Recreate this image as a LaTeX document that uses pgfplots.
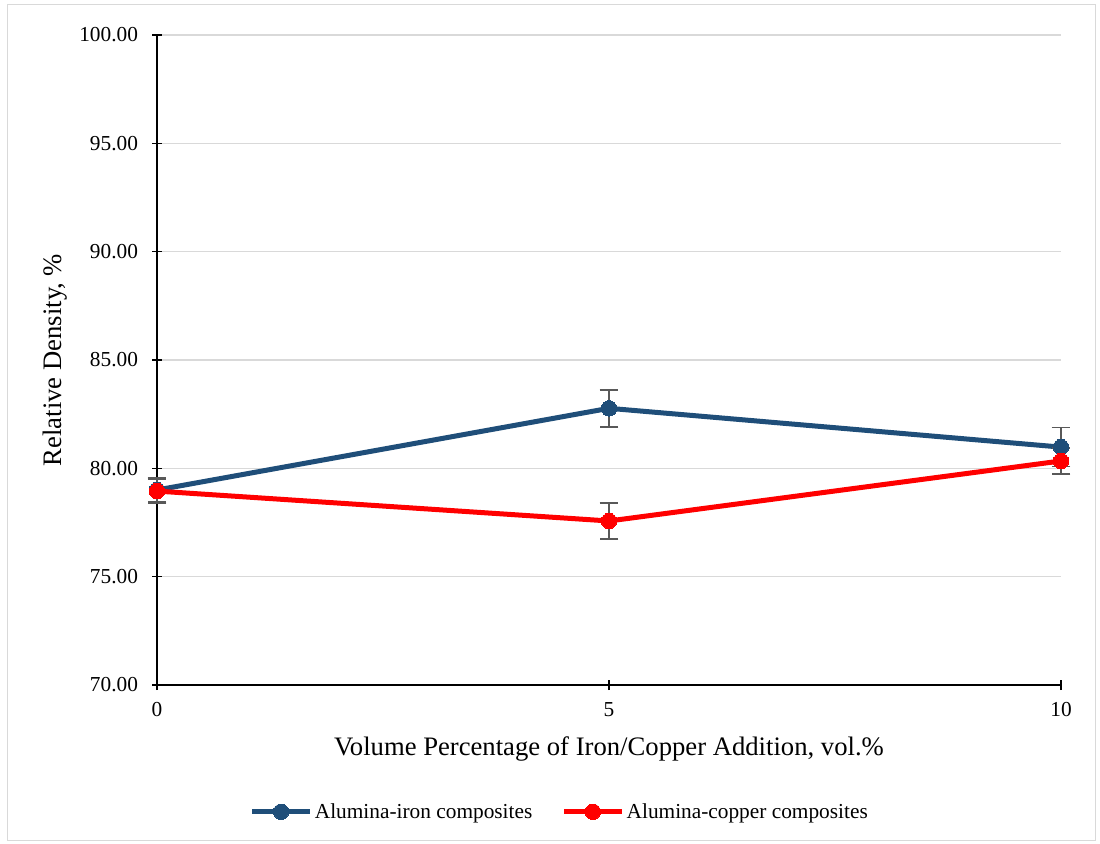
\documentclass[border=0pt]{standalone}
\usepackage{fontspec}
\setmainfont{Liberation Serif}
\usepackage{pgfplots}
\pgfplotsset{compat=1.18}
\definecolor{ironblue}{HTML}{1F4E79}
\definecolor{errgray}{HTML}{595959}
\definecolor{gridgray}{HTML}{D9D9D9}
\begin{document}
\begin{tikzpicture}[x=0.75pt,y=0.75pt]
% bounding box (pixel units 0.75pt, origin at axis lower-left = pixel (157,685))
\path (-157,-158) rectangle (943,685);
\draw[gridgray, line width=0.75pt] (-149,-155) rectangle (938,680);
\begin{axis}[
  at={(0,0)}, anchor=south west,
  scale only axis,
  width=678pt, height=487.5pt,
  xmin=0, xmax=10, ymin=70, ymax=100,
  xtick={0,5,10}, ytick={70,75,80,85,90,95,100},
  axis x line=bottom, axis y line=left,
  axis line style={black, line width=0.9pt, -},
  tick align=center, major tick length=7.5pt,
  tick style={black, line width=0.9pt},
  ymajorgrids, grid style={gridgray, line width=0.9pt},
  yticklabel style={/pgf/number format/fixed, /pgf/number format/precision=2, /pgf/number format/fixed zerofill, xshift=-7pt},
  /pgf/number format/assume math mode=true,
  ticklabel style={font=\fontsize{16}{19}\selectfont},
  xticklabel style={yshift=-6pt},
  xlabel={Volume Percentage of Iron/Copper Addition, vol.\%},
  ylabel={Relative Density, \%},
  label style={font=\fontsize{20}{24}\selectfont},
  xlabel style={yshift=-8pt},
  ylabel style={yshift=2.5pt},
  legend columns=2,
  legend style={draw=none, fill=none, at={(0.446,-0.195)}, anchor=center,
    font=\fontsize{16}{19}\selectfont, /tikz/every even column/.append style={column sep=20pt}},
  legend image code/.code={\draw[#1] (0pt,0pt) -- (43pt,0pt); \draw[#1, mark repeat=1] plot coordinates {(21.5pt,0pt)};},
  clip=false,
]
\addplot+[ironblue, line width=3.75pt, mark=*, mark size=5.8pt, mark options={ironblue, solid, line width=0pt},
  error bars/.cd, y dir=both, y explicit,
  error bar style={errgray, line width=1.2pt},
  error mark options={errgray, rotate=90, mark size=7pt, line width=1.2pt}]
  coordinates {(0,79.0) +- (0,0.55) (5,82.77) +- (0,0.85) (10,80.98) +- (0,0.9)};
\addlegendentry{Alumina-iron composites}
\addplot+[red, line width=3.75pt, mark=*, mark size=5.8pt, mark options={red, solid, line width=0pt},
  error bars/.cd, y dir=both, y explicit,
  error bar style={errgray, line width=1.2pt},
  error mark options={errgray, rotate=90, mark size=7pt, line width=1.2pt}]
  coordinates {(0,78.95) +- (0,0.55) (5,77.57) +- (0,0.82) (10,80.34) +- (0,0.6)};
\addlegendentry{Alumina-copper composites}
\end{axis}
\end{tikzpicture}
\end{document}
